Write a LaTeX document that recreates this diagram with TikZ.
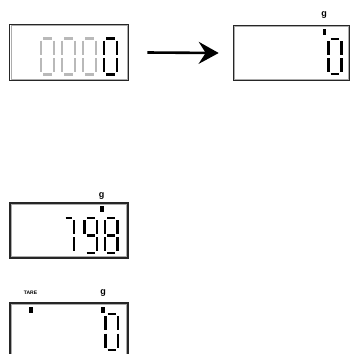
\documentclass[tikz,border=0pt]{standalone}
\usepackage{fontspec}
\setsansfont{Liberation Sans}
\usetikzlibrary{arrows.meta}
\newcommand\digitsev[6]{%
 \begin{scope}[shift={(#1,#2)}]
  \coordinate (sa1) at (2.2,0); \coordinate (sa2) at (#3-2.2,0);
  \coordinate (sb1) at (#3,2.2); \coordinate (sb2) at (#3,#4/2-1.7);
  \coordinate (sc1) at (#3,#4/2+1.7); \coordinate (sc2) at (#3,#4-2.2);
  \coordinate (sd1) at (2.2,#4); \coordinate (sd2) at (#3-2.2,#4);
  \coordinate (se1) at (0,#4/2+1.7); \coordinate (se2) at (0,#4-2.2);
  \coordinate (sf1) at (0,2.2); \coordinate (sf2) at (0,#4/2-1.7);
  \coordinate (sg1) at (2.2,#4/2); \coordinate (sg2) at (#3-2.2,#4/2);
  \foreach \s in {#5} \draw[seg,#6] (s\s1) -- (s\s2);
 \end{scope}}
\newcommand\lcdinner[1]{\draw[lcdin] ([shift={(2,2)}]#1.north west) rectangle ([shift={(-2,-2)}]#1.south east);}
\tikzset{
  lcd/.style={draw=black!85, line width=1.1pt, inner sep=0pt},
  lcdin/.style={draw=gray!65, line width=0.5pt},
  seg/.style={line width=2.9pt, line cap=butt},
  dim/.style={draw=gray!55},
  ink/.style={draw=black},
  flag/.style={fill=black, draw=none},
  unit/.style={font=\sffamily\bfseries\fontsize{9}{9}\selectfont, inner sep=0pt},
  small/.style={font=\sffamily\bfseries\fontsize{5}{5}\selectfont, inner sep=0pt},
  bigarrow/.style={line width=2.6pt, -{Stealth[length=20pt,width=22pt,inset=7pt]}}
}
\begin{document}
\begin{tikzpicture}[x=1pt,y=-1pt]
\useasboundingbox (0,0) rectangle (351,354);
% boxes
\node[lcd, minimum width=119pt, minimum height=56.5pt] (box1) at (69.25,52.5) {};
\node[lcd, minimum width=116pt, minimum height=55.5pt] (box2) at (291.25,53) {};
\node[lcd, minimum width=118pt, minimum height=55pt] (box3) at (69,230.5) {};
\node[lcd, minimum width=118pt, minimum height=67pt] (box4) at (69,336.5) {};
\lcdinner{box1}
\lcdinner{box2}
\lcdinner{box3}
\lcdinner{box4}
% arrow
\draw[bigarrow] ([xshift=18pt]box1.east) -- ([xshift=-14pt]box2.west);
% box 1 digits
\digitsev{41}{38.5}{13}{36}{a,b,c,d,e,f}{dim}
\digitsev{62}{38.5}{13}{36}{a,b,c,d,e,f}{dim}
\digitsev{83}{38.5}{13}{36}{a,b,c,d,e,f}{dim}
\digitsev{104}{38.5}{13}{36}{a,b,c,d,e,f}{ink}
% box 2
\node[unit] (g2) at (324,15) {g};
\fill[flag] (322.5,29) rectangle (326,35);
\digitsev{328.5}{39}{13}{35}{a,b,c,d,e,f}{ink}
% box 3
\node[unit] (g3) at (101.5,196.5) {g};
\fill[flag] (100,206) rectangle (103.5,212);
\digitsev{63.5}{218}{10.5}{35}{a,b,c}{ink}
\digitsev{84.5}{218}{12.5}{35}{a,b,c,d,f,g}{ink}
\digitsev{105}{218}{12.5}{35}{a,b,c,d,e,f,g}{ink}
% box 4
\node[small] (tare) at (30.5,293) {TARE};
\node[unit] (g4) at (103,293) {g};
\fill[flag] (29,307) rectangle (32.5,312.5);
\fill[flag] (101,307) rectangle (104.5,312.5);
\digitsev{105.5}{314}{12.5}{36}{a,b,c,d,e,f}{ink}
\end{tikzpicture}
\end{document}
